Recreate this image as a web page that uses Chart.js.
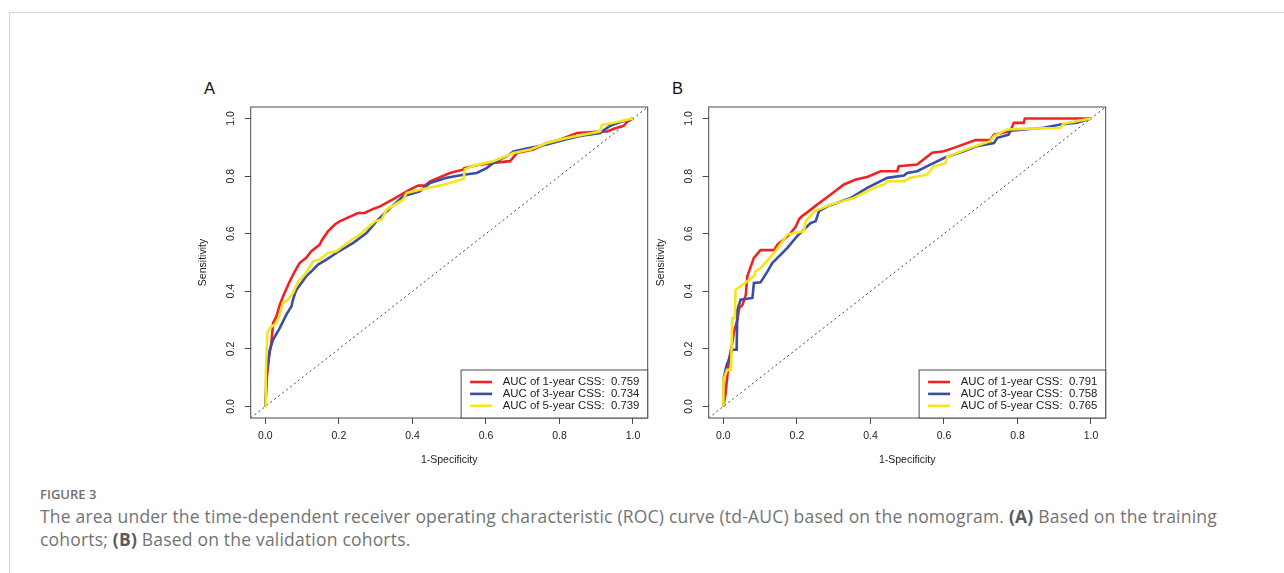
<!DOCTYPE html>
<html>
<head>
<meta charset="utf-8">
<title>Figure 3 - td-AUC</title>
<script src="https://cdn.jsdelivr.net/npm/chart.js@4.4.1/dist/chart.umd.min.js"></script>
<style>
  html, body { margin: 0; padding: 0; background: #fff; }
  body { width: 1284px; height: 573px; position: relative; overflow: hidden; font-family: "Liberation Sans", Arial, sans-serif; }
  .frame { position: absolute; left: 9px; top: 12px; right: 0; bottom: -2px; border-top: 1px solid #d6d6d6; border-left: 1px solid #d6d6d6; }
  .panel { position: absolute; top: 93px; width: 480px; height: 380px; }
  .tag { position: absolute; top: 79px; font-size: 16.5px; line-height: 18px; color: #111; }
  .fig-label { position: absolute; left: 40px; top: 485px; font-family: "Open Sans", "Noto Sans", sans-serif; font-size: 13px; font-weight: 600; line-height: 18px; color: #707070; }
  .fig-text { position: absolute; left: 40px; top: 505px; width: 1240px; font-family: "Open Sans", "Noto Sans", sans-serif; font-size: 17.5px; letter-spacing: 0.2px; line-height: 23px; color: #737373; white-space: nowrap; }
  .fig-text b { color: #5a5a5a; }
</style>
</head>
<body>
<div class="frame"></div>

<div class="tag" style="left:204px">A</div>
<div class="tag" style="left:672px">B</div>

<div class="panel" style="left:180px"><canvas id="rocA" width="480" height="380"></canvas></div>
<div class="panel" style="left:638px"><canvas id="rocB" width="480" height="380"></canvas></div>

<div class="fig-label">FIGURE 3</div>
<div class="fig-text">The area under the time-dependent receiver operating characteristic (ROC) curve (td-AUC) based on the nomogram. <b>(A)</b> Based on the training<br>cohorts; <b>(B)</b> Based on the validation cohorts.</div>

<script>
// axis settings
const tickValues = [0, 0.2, 0.4, 0.6, 0.8, 1.0];
const axisMin = -0.04;
const axisMax = 1.04;

// A: training cohort (1-specificity / sensitivity)
const fprA1 = [0, 0.004, 0.01, 0.016, 0.021, 0.03, 0.039, 0.048, 0.062, 0.066, 0.08, 0.093, 0.111, 0.125, 0.148, 0.152, 0.17, 0.189, 0.202, 0.252, 0.27, 0.293, 0.312, 0.348, 0.393, 0.416, 0.434, 0.448, 0.502, 0.539, 0.541, 0.584, 0.62, 0.666, 0.684, 0.729, 0.766, 0.802, 0.848, 0.9, 0.93, 0.95, 0.975, 0.985, 1];
const tprA1 = [0, 0.1, 0.174, 0.22, 0.29, 0.313, 0.353, 0.382, 0.423, 0.434, 0.469, 0.498, 0.516, 0.539, 0.562, 0.574, 0.608, 0.632, 0.643, 0.672, 0.672, 0.686, 0.695, 0.72, 0.753, 0.767, 0.767, 0.782, 0.811, 0.823, 0.828, 0.84, 0.846, 0.852, 0.88, 0.892, 0.915, 0.927, 0.95, 0.954, 0.955, 0.965, 0.975, 0.99, 1];

const fprA3 = [0, 0.003, 0.012, 0.021, 0.039, 0.057, 0.071, 0.075, 0.084, 0.098, 0.111, 0.13, 0.143, 0.166, 0.193, 0.239, 0.275, 0.302, 0.33, 0.375, 0.42, 0.448, 0.493, 0.539, 0.575, 0.602, 0.62, 0.657, 0.675, 0.711, 0.766, 0.811, 0.856, 0.911, 0.938, 0.966, 1];
const tprA3 = [0, 0.116, 0.197, 0.232, 0.272, 0.319, 0.348, 0.371, 0.405, 0.429, 0.452, 0.475, 0.493, 0.51, 0.533, 0.568, 0.602, 0.643, 0.678, 0.73, 0.747, 0.776, 0.794, 0.805, 0.811, 0.828, 0.846, 0.869, 0.886, 0.896, 0.91, 0.925, 0.939, 0.95, 0.975, 0.988, 1];

const fprA5 = [0, 0.001, 0.005, 0.012, 0.03, 0.039, 0.048, 0.062, 0.075, 0.089, 0.107, 0.13, 0.148, 0.17, 0.193, 0.229, 0.257, 0.298, 0.316, 0.321, 0.33, 0.375, 0.384, 0.42, 0.484, 0.539, 0.543, 0.561, 0.62, 0.675, 0.72, 0.766, 0.811, 0.856, 0.9, 0.911, 0.915, 0.947, 1];
const tprA5 = [0, 0.116, 0.255, 0.272, 0.29, 0.319, 0.359, 0.371, 0.394, 0.434, 0.458, 0.504, 0.51, 0.533, 0.539, 0.574, 0.597, 0.643, 0.649, 0.661, 0.684, 0.718, 0.741, 0.753, 0.77, 0.79, 0.823, 0.834, 0.852, 0.88, 0.892, 0.915, 0.93, 0.942, 0.952, 0.956, 0.977, 0.985, 1];

// B: validation cohort
const fprB1 = [0, 0.006, 0.015, 0.024, 0.029, 0.038, 0.043, 0.052, 0.061, 0.065, 0.07, 0.083, 0.101, 0.138, 0.147, 0.169, 0.183, 0.197, 0.206, 0.215, 0.228, 0.255, 0.292, 0.328, 0.36, 0.391, 0.428, 0.473, 0.477, 0.527, 0.568, 0.6, 0.627, 0.686, 0.726, 0.736, 0.781, 0.79, 0.817, 0.82, 1];
const tprB1 = [0, 0.046, 0.162, 0.22, 0.26, 0.301, 0.342, 0.353, 0.388, 0.452, 0.47, 0.516, 0.543, 0.543, 0.562, 0.585, 0.602, 0.625, 0.651, 0.662, 0.674, 0.701, 0.736, 0.771, 0.788, 0.797, 0.817, 0.817, 0.834, 0.84, 0.881, 0.886, 0.898, 0.925, 0.925, 0.944, 0.956, 0.985, 0.985, 1, 1];

const fprB3 = [0, 0, 0.009, 0.015, 0.024, 0.036, 0.038, 0.047, 0.079, 0.083, 0.101, 0.12, 0.133, 0.147, 0.174, 0.2, 0.219, 0.237, 0.251, 0.26, 0.283, 0.346, 0.391, 0.446, 0.491, 0.5, 0.527, 0.563, 0.6, 0.654, 0.69, 0.736, 0.745, 0.776, 0.781, 0.871, 0.917, 0.962, 1];
const tprB3 = [0, 0.093, 0.145, 0.162, 0.197, 0.197, 0.336, 0.371, 0.377, 0.429, 0.431, 0.469, 0.498, 0.516, 0.551, 0.591, 0.614, 0.637, 0.643, 0.678, 0.695, 0.724, 0.759, 0.794, 0.802, 0.811, 0.817, 0.84, 0.863, 0.886, 0.904, 0.915, 0.933, 0.944, 0.958, 0.968, 0.979, 0.985, 1];

const fprB5 = [0, 0, 0.01, 0.021, 0.024, 0.031, 0.033, 0.083, 0.088, 0.101, 0.138, 0.174, 0.219, 0.224, 0.247, 0.292, 0.355, 0.409, 0.437, 0.446, 0.491, 0.509, 0.554, 0.572, 0.604, 0.609, 0.672, 0.726, 0.736, 0.772, 0.826, 0.917, 0.925, 1];
const tprB5 = [0, 0.093, 0.127, 0.127, 0.307, 0.307, 0.405, 0.452, 0.47, 0.481, 0.533, 0.597, 0.609, 0.643, 0.678, 0.701, 0.724, 0.759, 0.771, 0.782, 0.782, 0.794, 0.805, 0.834, 0.844, 0.867, 0.898, 0.921, 0.939, 0.962, 0.965, 0.967, 0.982, 1];

const seriesNames = ['1-year', '3-year', '5-year'];
const aucA = ['0.759', '0.734', '0.739'];
const aucB = ['0.791', '0.758', '0.765'];
const seriesColors = ['#ee2424', '#3a4fa3', '#f4e51c'];

const fontFamily = '"Liberation Sans", Arial, sans-serif';
const textColor = '#222';

function toPoints(xs, ys) {
  return xs.map((x, i) => ({ x, y: ys[i] }));
}

// box around the plot region (R style)
const boxPlugin = {
  id: 'plotBox',
  afterDatasetsDraw(chart) {
    const { ctx, chartArea: a } = chart;
    ctx.save();
    ctx.strokeStyle = '#4a4a4a';
    ctx.lineWidth = 1;
    ctx.strokeRect(a.left, a.top, a.right - a.left, a.bottom - a.top);
    ctx.restore();
  },
};

// boxed legend at the bottom right of the plot region
const rocLegend = {
  id: 'rocLegend',
  afterDraw(chart) {
    const { ctx, chartArea: a } = chart;
    const items = chart.data.datasets.filter((d) => d.inLegend).sort((p, q) => p.legendIndex - q.legendIndex);
    const w = 186.6;
    const h = 48;
    const x0 = a.right - w;
    const y0 = a.bottom - h;
    ctx.save();
    ctx.fillStyle = '#fff';
    ctx.fillRect(x0, y0, w, h);
    ctx.strokeStyle = '#4a4a4a';
    ctx.lineWidth = 1;
    ctx.strokeRect(x0, y0, w, h);
    ctx.font = '11.4px ' + fontFamily;
    ctx.textBaseline = 'middle';
    items.forEach((d, i) => {
      const y = y0 + 12 + i * 11.9;
      ctx.strokeStyle = d.borderColor;
      ctx.lineWidth = 2.6;
      ctx.beginPath();
      ctx.moveTo(x0 + 9, y);
      ctx.lineTo(x0 + 31, y);
      ctx.stroke();
      ctx.fillStyle = textColor;
      ctx.fillText(d.label, x0 + 41.6, y);
    });
    ctx.restore();
  },
};

function buildChart(canvasId, fprs, tprs, aucs) {
  const datasets = fprs.map((xs, i) => ({
    label: 'AUC of ' + seriesNames[i] + ' CSS:  ' + aucs[i],
    data: toPoints(xs, tprs[i]),
    borderColor: seriesColors[i],
    borderWidth: 2.6,
    pointRadius: 0,
    showLine: true,
    tension: 0,
    order: 3 - i,
    inLegend: true,
    legendIndex: i,
  }));
  datasets.push({
    label: 'reference',
    data: [{ x: axisMin, y: axisMin }, { x: axisMax, y: axisMax }],
    borderColor: '#444',
    borderWidth: 1,
    borderDash: [2, 3],
    pointRadius: 0,
    showLine: true,
    order: 10,
  });

  const tickFont = { family: fontFamily, size: 10.5 };

  new Chart(document.getElementById(canvasId), {
    type: 'scatter',
    data: { datasets },
    plugins: [boxPlugin, rocLegend],
    options: {
      responsive: false,
      animation: false,
      layout: { padding: { top: 14, right: 12.3, left: 0, bottom: 0 } },
      plugins: {
        legend: { display: false },
        tooltip: { enabled: false },
      },
      scales: {
        x: {
          type: 'linear',
          min: axisMin,
          max: axisMax,
          afterBuildTicks: (scale) => { scale.ticks = tickValues.map((v) => ({ value: v })); },
          afterFit: (scale) => { scale.height = 55; },
          border: { display: false },
          grid: { drawOnChartArea: false, drawTicks: true, tickLength: 6, color: '#4a4a4a' },
          ticks: { padding: 6, color: textColor, font: tickFont, maxRotation: 0, autoSkip: false, callback: (v) => Number(v).toFixed(1) },
          title: { display: true, text: '1-Specificity', color: textColor, font: tickFont, padding: { top: 0, bottom: 6.7 } },
        },
        y: {
          type: 'linear',
          min: axisMin,
          max: axisMax,
          afterBuildTicks: (scale) => { scale.ticks = tickValues.map((v) => ({ value: v })); },
          afterFit: (scale) => { scale.width = 70.7; },
          border: { display: false },
          grid: { drawOnChartArea: false, drawTicks: true, tickLength: 6, color: '#4a4a4a' },
          ticks: { padding: 6.7, color: textColor, font: tickFont, minRotation: 90, maxRotation: 90, crossAlign: 'center', autoSkip: false, callback: (v) => Number(v).toFixed(1) },
          title: { display: true, text: 'Sensitivity', color: textColor, font: tickFont, padding: { top: 17, bottom: 0 } },
        },
      },
    },
  });
}

buildChart('rocA', [fprA1, fprA3, fprA5], [tprA1, tprA3, tprA5], aucA);
buildChart('rocB', [fprB1, fprB3, fprB5], [tprB1, tprB3, tprB5], aucB);
</script>
</body>
</html>
